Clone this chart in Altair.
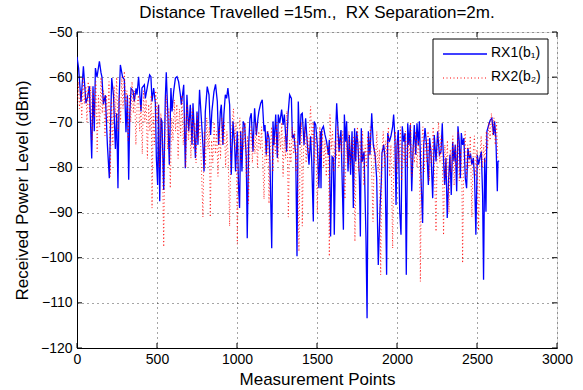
import altair as alt
import pandas as pd

# ---- data ----
blue_x = [0, 10, 25, 40, 56, 67, 77, 92, 100, 108, 115, 125, 140, 150, 156, 165, 177, 190, 202, 210,
          217, 228, 240, 248, 256, 263, 271, 285, 296, 306, 315, 323, 330, 338, 350, 358, 369,
          375, 385, 400, 406, 421, 427, 442, 454, 462, 469, 479, 490, 496, 504, 510, 517, 525, 531,
          542, 552, 558, 567, 577, 587, 594, 604, 615, 625, 635, 646, 652, 667, 677, 687, 698, 708,
          719, 725, 740, 750, 756, 762, 766, 777, 787, 794, 802, 814, 825, 835, 843, 856, 866, 877,
          885, 896, 902, 912, 918, 927, 935, 943, 954, 964, 975, 985, 991, 1002, 1010, 1016, 1023,
          1031, 1039, 1048, 1058, 1064, 1073, 1081, 1089, 1100, 1110, 1121, 1131, 1137, 1148, 1158,
          1169, 1175, 1183, 1190, 1200, 1206, 1217, 1225, 1231, 1242, 1252, 1258, 1267, 1279, 1288,
          1296, 1304, 1310, 1319, 1329, 1340, 1346, 1356, 1367, 1375, 1383, 1392, 1400, 1408, 1419,
          1429, 1440, 1450, 1460, 1467, 1477, 1483, 1492, 1502, 1512, 1521, 1525, 1529, 1540, 1550,
          1560, 1571, 1577, 1585, 1594, 1602, 1608, 1617, 1623, 1631, 1638, 1644, 1650, 1658, 1665,
          1671, 1679, 1685, 1694, 1702, 1710, 1719, 1727, 1735, 1742, 1748, 1756, 1765, 1771, 1777,
          1783, 1794, 1806, 1813, 1821, 1831, 1842, 1852, 1863, 1873, 1883, 1894, 1902, 1906, 1917,
          1925, 1935, 1942, 1952, 1962, 1973, 1979, 1987, 1994, 2000, 2008, 2017, 2025, 2033, 2042,
          2050, 2058, 2067, 2075, 2083, 2092, 2100, 2108, 2117, 2125, 2133, 2140, 2150, 2160, 2167,
          2175, 2185, 2196, 2204, 2212, 2223, 2233, 2244, 2254, 2265, 2275, 2283, 2287, 2298, 2306,
          2314, 2323, 2331, 2339, 2348, 2356, 2364, 2373, 2381, 2389, 2396, 2402, 2410, 2418, 2427,
          2435, 2443, 2452, 2460, 2468, 2477, 2485, 2493, 2502, 2510, 2518, 2527, 2535, 2541, 2548,
          2556, 2562, 2573, 2583, 2593, 2604, 2610, 2618, 2627, 2631, 2638]
blue_y = [-55.5, -58, -65.5, -57.6, -65.8, -64.3, -62, -78, -62, -72, -58, -60, -56.5, -59, -60, -66, -64, -75, -82.4, -70,
          -60.2, -64, -75.9, -68, -84.6, -65, -57.3, -60, -60.5, -72.2, -64, -82.7, -68, -62.5, -63, -65.4, -62.5,
          -63.9, -59.9, -67.6, -62.4, -61.7, -64.7, -61.7, -59.5, -59.9, -65.4, -62.4, -65.8, -77.9, -83.9, -66.1, -87.5, -69.1, -69.8,
          -85, -64.7, -58.9, -67.6, -79.4, -62.4, -67.6, -63.2, -60.2, -59.9, -61, -63.9, -66.1, -61.7, -80.2, -63.9, -72, -66.1,
          -75, -65.8, -77.9, -67.6, -75, -66.9, -62.8, -69.1, -75, -80.9, -67.6, -62.1, -63.9, -72.8, -67.6, -63.2, -61.6, -65.4,
          -75, -67.6, -66.1, -75, -68.3, -63.9, -64.7, -62.4, -66.1, -81.6, -69.8, -75, -80.9, -72, -84.6, -89, -72,
          -80.9, -69.8, -70.6, -77.9, -95.7, -75, -69.1, -68, -76.5, -66.9, -72.8, -69.1, -67.6, -65.8, -65,
          -72, -70.6, -77.2, -72, -73.5, -78.7, -97.9, -69.8, -75, -68.3, -77.9, -68.3, -70.2, -67.2, -70.6,
          -68.3, -72.8, -76.5, -68.3, -63.9, -64.7, -73.5, -72.8, -77.2, -99.7, -65.4, -75, -68.3, -68, -75,
          -69.1, -75, -79.4, -73.1, -78.7, -92, -69.8, -70.6, -75, -84.6, -72, -84.6, -71.7, -70.9, -72.8,
          -74.3, -77.2, -73.9, -95.3, -77.6, -77.9, -94.9, -72, -65.8, -71.3, -76.5, -73.5, -71.7, -83.9, -93.8,
          -68.3, -74.3, -69.8, -80.9, -72.8, -81.6, -72, -89, -71.3, -78.7, -72, -75, -82.4, -95.3, -71.3,
          -78.7, -76.5, -95.3, -113.4, -72, -77.2, -68, -75, -77.2, -82.4, -101.6, -89, -83.1, -76.8, -75,
          -77.9, -103.8, -72.4, -74.3, -73.1, -70.9, -68.3, -73.5, -88.3, -75, -71.7, -89.8, -94.9, -70.9, -74.3,
          -72.4, -103.8, -70.2, -75, -70.6, -85.3, -76.5, -70.6, -77.2, -70.2, -75, -69.8, -82.4, -92.3, -75,
          -71.3, -75, -83.9, -73.5, -76.5, -86.8, -72.8, -78.7, -72, -77.2, -76.5, -70.2, -75, -83.9, -77.9,
          -91.2, -82.4, -77.2, -86.1, -74.3, -78.7, -75, -85.3, -70.9, -74.3, -82.4, -72.4, -75, -73.5, -82.4,
          -84.6, -75.7, -77.9, -77.2, -79.4, -77.9, -82.4, -94.9, -77.2, -79.4, -77.9, -76.5, -86.1, -104.9, -77.9,
          -89.8, -72, -70.6, -69.5, -69.1, -72.8, -69.8, -73.5, -85.3, -78.7, -78.5]

red_x = [0, 8, 15, 22, 30, 38, 46, 55, 62, 70, 78, 86, 95, 102, 110, 118, 126, 134, 142, 150, 158, 166,
         175, 183, 192, 200, 208, 216, 224, 232, 240, 248, 256, 264, 272, 280, 288, 296, 304, 312, 320,
         328, 336, 344, 352, 360, 368, 376, 384, 392, 400, 408, 416, 424, 432, 440, 448, 456, 464, 469,
         476, 484, 492, 500, 508, 516, 524, 532, 542, 550, 558, 566, 574, 583, 592, 600, 608, 616, 624,
         632, 640, 648, 656, 664, 672, 680, 688, 696, 704, 712, 720, 728, 736, 744, 752, 760, 768, 776,
         787, 795, 803, 811, 819, 827, 833, 841, 849, 857, 865, 873, 881, 889, 897, 905, 913, 921, 929,
         937, 945, 954, 962, 970, 978, 986, 994, 1002, 1010, 1018, 1026, 1034, 1042, 1050, 1058, 1066,
         1072, 1080, 1088, 1096, 1104, 1112, 1120, 1128, 1136, 1146, 1154, 1162, 1169, 1177, 1185, 1193,
         1200, 1208, 1216, 1224, 1232, 1240, 1248, 1256, 1264, 1272, 1280, 1288, 1296, 1304, 1312, 1321,
         1329, 1337, 1345, 1353, 1361, 1369, 1377, 1387, 1395, 1403, 1408, 1416, 1424, 1432, 1440, 1448,
         1456, 1460, 1468, 1476, 1484, 1492, 1502, 1510, 1518, 1526, 1534, 1542, 1550, 1558, 1566, 1573,
         1577, 1581, 1589, 1597, 1605, 1613, 1621, 1629, 1637, 1645, 1653, 1661, 1669, 1675, 1683, 1691,
         1699, 1707, 1715, 1723, 1731, 1737, 1745, 1753, 1761, 1769, 1777, 1785, 1793, 1801, 1809, 1817,
         1825, 1833, 1841, 1850, 1858, 1866, 1874, 1882, 1890, 1898, 1906, 1914, 1922, 1930, 1938, 1946,
         1954, 1962, 1973, 1981, 1989, 1997, 2005, 2013, 2021, 2029, 2037, 2045, 2053, 2061, 2069, 2077,
         2085, 2093, 2101, 2109, 2117, 2125, 2133, 2141, 2146, 2154, 2162, 2170, 2178, 2186, 2194, 2202,
         2210, 2218, 2226, 2234, 2244, 2252, 2260, 2268, 2276, 2284, 2291, 2299, 2307, 2315, 2325, 2333,
         2341, 2349, 2357, 2365, 2373, 2381, 2389, 2397, 2405, 2410, 2418, 2426, 2434, 2442, 2450, 2458,
         2468, 2476, 2484, 2492, 2500, 2510, 2518, 2526, 2534, 2542, 2550, 2558, 2566, 2574, 2582, 2590,
         2598, 2606, 2614, 2622, 2630]
red_y = [-66, -61, -67, -63, -69, -60, -66, -62, -70, -61, -68, -62, -74, -63, -69, -61, -76.5, -64, -71, -60, -68, -63,
         -73, -64, -70, -61, -82, -65, -75, -62, -69, -60, -72, -64, -70, -60, -67, -58.7, -66, -63, -74,
         -64, -70, -61, -68, -63, -75, -66, -64, -72, -66, -77, -63, -70, -65, -78, -66, -72, -64, -89,
         -68, -75, -63, -70, -66, -80, -68, -73, -97.6, -70, -64, -76, -67, -84.6, -69, -74, -65, -72, -66,
         -78, -67, -73, -64, -75, -68, -80, -66, -74, -69, -78, -67, -76, -70, -79, -68, -74, -70, -78,
         -91, -72, -80, -69, -76, -71, -91, -74, -79, -70, -77, -72, -82, -71, -78, -69, -75, -70, -80,
         -72, -78, -93, -74, -70, -67, -76, -70, -97, -74, -69, -79, -71, -76, -70, -82, -73,
         -88, -75, -71, -79, -73, -77, -70, -80, -72, -76, -71, -80, -87, -74, -79, -72,
         -88, -76, -71, -81, -73, -77, -70, -79, -72, -76, -70, -82, -73, -78, -67.5, -91,
         -74, -79, -71, -77, -72, -81, -74, -98.6, -75, -70, -93, -76, -71, -79, -73, -77,
         -69, -66.5, -75, -70, -79, -73, -90, -76, -71, -78, -72, -80, -74, -82, -75, -79,
         -99.7, -68.3, -76, -72, -81, -74, -78, -71, -80, -73, -77, -72, -83, -87, -74, -79,
         -72, -80, -74, -78, -73, -96.4, -76, -71, -81, -74, -79, -72, -84, -75, -80, -73,
         -78, -71, -80, -92, -75, -79, -72, -81, -76, -103.8, -77, -72, -80, -74, -78, -71,
         -82, -75, -97.9, -76, -72, -81, -74, -79, -71, -83, -75, -79, -72, -80, -74, -78,
         -70, -82, -75, -79, -72, -80, -74, -78, -105.3, -75, -71, -81, -74, -79, -72, -83,
         -75, -79, -71, -80, -94.2, -74, -70, -79, -73, -80, -95, -75, -82, -74, -90, -76,
         -81, -73, -84, -75, -80, -72, -83, -76, -80, -101.2, -76, -72, -82, -75, -80, -73,
         -91, -77, -73, -82, -76, -94, -78, -73, -80, -75, -79, -72, -76, -70, -74, -68,
         -73, -69, -75, -70, -78]

series_names = ["RX1(b\u2081)", "RX2(b\u2082)"]
x_ticks = [0, 500, 1000, 1500, 2000, 2500, 3000]
y_ticks = [-120, -110, -100, -90, -80, -70, -60, -50]
title_text = "Distance Travelled =15m., \u00a0RX Separation=2m."

W, H = 480, 316
FONT = "Liberation Sans"

blue_df = pd.DataFrame({"x": blue_x, "y": blue_y})
red_df = pd.DataFrame({"x": red_x, "y": red_y})

xs = alt.Scale(domain=[0, 3000], nice=False)
ys = alt.Scale(domain=[-120, -50], nice=False)

common = dict(grid=True, tickSize=0, labelFontSize=14, titleFontSize=17,
              labelFont=FONT, titleFont=FONT, labelColor="#000", titleColor="#000",
              gridColor="#000", gridDash=[1, 4], gridOpacity=0.7, domainColor="#000",
              titleFontWeight="normal", labelFlush=False, format="d")
xax = alt.Axis(values=x_ticks, title="Measurement Points", labelPadding=4, titlePadding=5, **common)
yax = alt.Axis(values=y_ticks, title="Received Power Level (dBm)", labelPadding=5, titlePadding=9, **common)

blue = alt.Chart(blue_df).mark_line(color="#0000ff", strokeWidth=1.3, clip=True).encode(
    x=alt.X("x:Q", scale=xs, axis=xax),
    y=alt.Y("y:Q", scale=ys, axis=yax),
)
red = alt.Chart(red_df).mark_line(color="#ff0000", strokeWidth=1, strokeDash=[1, 2.5],
                                  opacity=0.85, clip=True).encode(
    x=alt.X("x:Q", scale=xs),
    y=alt.Y("y:Q", scale=ys),
)

xt = pd.DataFrame({"t": x_ticks})
yt = pd.DataFrame({"t": y_ticks})
tick_b = alt.Chart(xt).mark_rule(color="#000").encode(
    x=alt.X("t:Q", scale=xs), y=alt.value(H), y2=alt.value(H - 5))
tick_t = alt.Chart(xt).mark_rule(color="#000").encode(
    x=alt.X("t:Q", scale=xs), y=alt.value(0), y2=alt.value(5))
tick_l = alt.Chart(yt).mark_rule(color="#000").encode(
    y=alt.Y("t:Q", scale=ys), x=alt.value(0), x2=alt.value(5))
tick_r = alt.Chart(yt).mark_rule(color="#000").encode(
    y=alt.Y("t:Q", scale=ys), x=alt.value(W), x2=alt.value(W - 5))

one = alt.Data(values=[{"a": 1}])
leg_box = alt.Chart(one).mark_rect(fill="white", stroke="#000", strokeWidth=1).encode(
    x=alt.value(356), x2=alt.value(471), y=alt.value(7), y2=alt.value(62))
leg_l1 = alt.Chart(one).mark_rule(color="#0000ff", strokeWidth=1.3).encode(
    x=alt.value(366), x2=alt.value(410), y=alt.value(22))
leg_l2 = alt.Chart(one).mark_rule(color="#ff0000", strokeWidth=1, strokeDash=[1, 2.5]).encode(
    x=alt.value(366), x2=alt.value(410), y=alt.value(46))
leg_t1 = alt.Chart(one).mark_text(text=series_names[0], align="left", baseline="middle",
                                  fontSize=14, font=FONT, color="#000").encode(
    x=alt.value(414), y=alt.value(21))
leg_t2 = alt.Chart(one).mark_text(text=series_names[1], align="left", baseline="middle",
                                  fontSize=14, font=FONT, color="#000").encode(
    x=alt.value(414), y=alt.value(45))

chart = alt.layer(
    blue, red, tick_b, tick_t, tick_l, tick_r, leg_box, leg_l1, leg_l2, leg_t1, leg_t2
).properties(
    width=W, height=H,
    title=alt.Title(title_text, fontSize=17, font=FONT,
                    fontWeight="normal", color="#000", offset=3),
    autosize=alt.AutoSizeParams(type="none"),
    padding={"left": 77, "top": 32, "right": 26, "bottom": 42},
).configure_view(stroke="#000", strokeWidth=1).configure(background="white")

chart.save("out.html", embed_options={"renderer": "svg", "actions": False})
